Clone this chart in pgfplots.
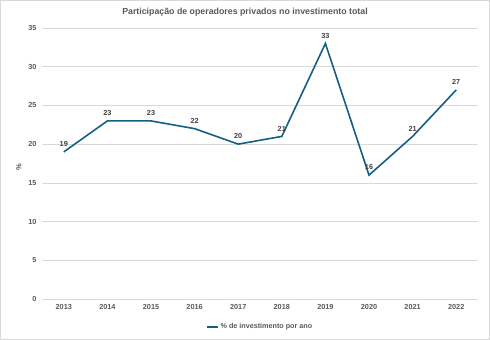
\documentclass[border=0pt]{standalone}
\usepackage{pgfplots}
\pgfplotsset{compat=1.18}
\usepackage{fontspec}
\setmainfont{Liberation Sans}
\definecolor{lineC}{RGB}{21,96,130}
\definecolor{txtC}{RGB}{89,89,89}
\definecolor{lblC}{RGB}{64,64,64}
\definecolor{gridC}{RGB}{217,217,217}
\begin{document}
\begin{tikzpicture}[x=1pt,y=1pt]
\fill[white] (0,0) rectangle (490,340);
\draw[gridC] (0.5,0.5) rectangle (489.5,339.5);
\node[font=\bfseries\fontsize{8.8}{10}\selectfont, text=txtC] at (245,328) {Participação de operadores privados no investimento total};
\begin{axis}[
  at={(42pt,41pt)}, anchor=south west,
  scale only axis, width=436pt, height=271pt,
  xmin=-0.5, xmax=9.5, ymin=0, ymax=35,
  ytick={0,5,...,35},
  xtick={0,...,9},
  xticklabels={2013,2014,2015,2016,2017,2018,2019,2020,2021,2022},
  axis line style={draw=none},
  major tick style={draw=none},
  ymajorgrids, grid style={gridC, line width=0.6pt},
  tick label style={font=\bfseries\fontsize{7.3}{8}\selectfont, text=txtC},
  /pgf/number format/assume math mode=true,
  yticklabel style={xshift=-2pt},
  xticklabel style={yshift=-2pt},
  ylabel={\%}, ylabel style={font=\bfseries\fontsize{7.5}{8}\selectfont, text=txtC, at={(ticklabel cs:0.5)}, xshift=-4pt},
  legend style={at={(0.5,-0.075)}, anchor=north, draw=none, font=\bfseries\fontsize{7.2}{8}\selectfont, text=txtC, legend columns=1},
  legend image code/.code={\draw[#1, line width=1.5pt] (0cm,0cm) -- (0.4cm,0cm);},
  nodes near coords,
  every node near coord/.append style={font=\bfseries\fontsize{7.3}{8}\selectfont, text=lblC, yshift=1pt},
  clip=false,
]
\addplot[lineC, line width=1.6pt, mark=none] coordinates {
(0,19) (1,23) (2,23) (3,22) (4,20) (5,21) (6,33) (7,16) (8,21) (9,27)
};
\legend{\% de investimento por ano}
\end{axis}
\end{tikzpicture}
\end{document}
